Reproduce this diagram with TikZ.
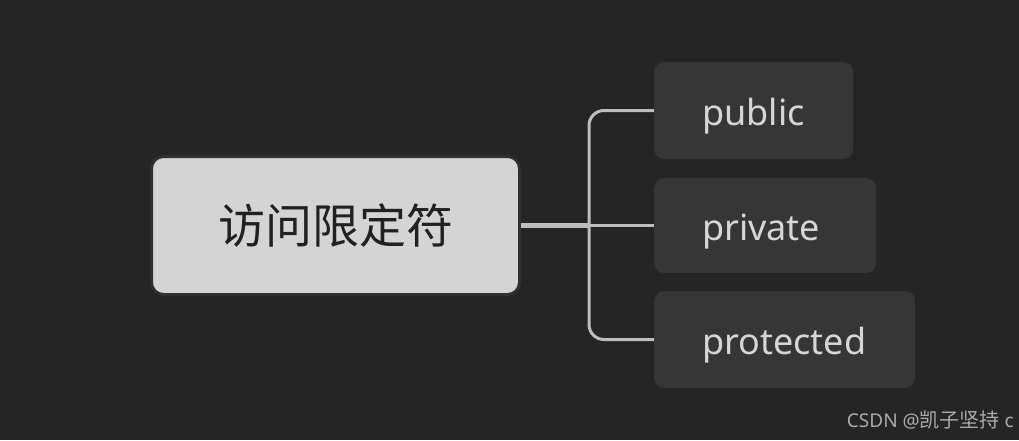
\documentclass[tikz,border=0pt]{standalone}
\usepackage{fontspec}
\setmainfont{Noto Sans}
\newfontfamily\cjk{Noto Sans CJK SC}
\definecolor{bgc}{HTML}{252525}
\definecolor{mainfill}{HTML}{D4D4D4}
\definecolor{mainborder}{HTML}{303030}
\definecolor{childfill}{HTML}{363636}
\definecolor{childtext}{HTML}{D6D6D6}
\definecolor{linec}{HTML}{BDBDBD}
\definecolor{marktext}{HTML}{ABABAB}
\begin{document}
\begin{tikzpicture}[x=1pt,y=-1pt,
  mainbox/.style={draw=mainborder,line width=3pt,fill=mainfill,rounded corners=12pt,
    minimum width=368pt,minimum height=138pt,inner sep=0pt,text=black!87,
    font=\cjk\fontsize{47}{52}\selectfont},
  childbox/.style={fill=childfill,rounded corners=10pt,minimum height=97pt,
    inner ysep=0pt,inner xsep=48pt,align=left,anchor=west,
    text=childtext,font=\fontsize{36}{40}\selectfont,text height=36pt,text depth=7pt},
  trunkline/.style={draw=linec,line width=4.5pt},
  branchline/.style={draw=linec,line width=3pt,rounded corners=15pt}]
\fill[bgc] (0,0) rectangle (1019,440);
\useasboundingbox (0,0) rectangle (1019,440);
\node[mainbox] (root) at (335.5,225.5) {\raisebox{-2pt}{访问限定符}};
\node[childbox,text width=103pt] (pub) at (654,110.5) {public};
\node[childbox,text width=126pt,minimum height=95pt] (priv) at (654,225.5) {private};
\node[childbox,text width=165pt] (prot) at (654,339.5) {protected};
\coordinate (trunk) at (589,225.5);
\draw[trunkline] (root.east) -- (trunk);
\draw[branchline] (trunk) |- (pub.west);
\draw[branchline] (trunk) -- (priv.west);
\draw[branchline] (trunk) |- (prot.west);
\node[anchor=east,text=marktext,inner sep=0pt,font=\fontsize{19}{21}\selectfont] (mark) at (1014,420) {CSDN @{\cjk\fontsize{20}{21}\selectfont 凯子坚持} c};
\end{tikzpicture}
\end{document}
